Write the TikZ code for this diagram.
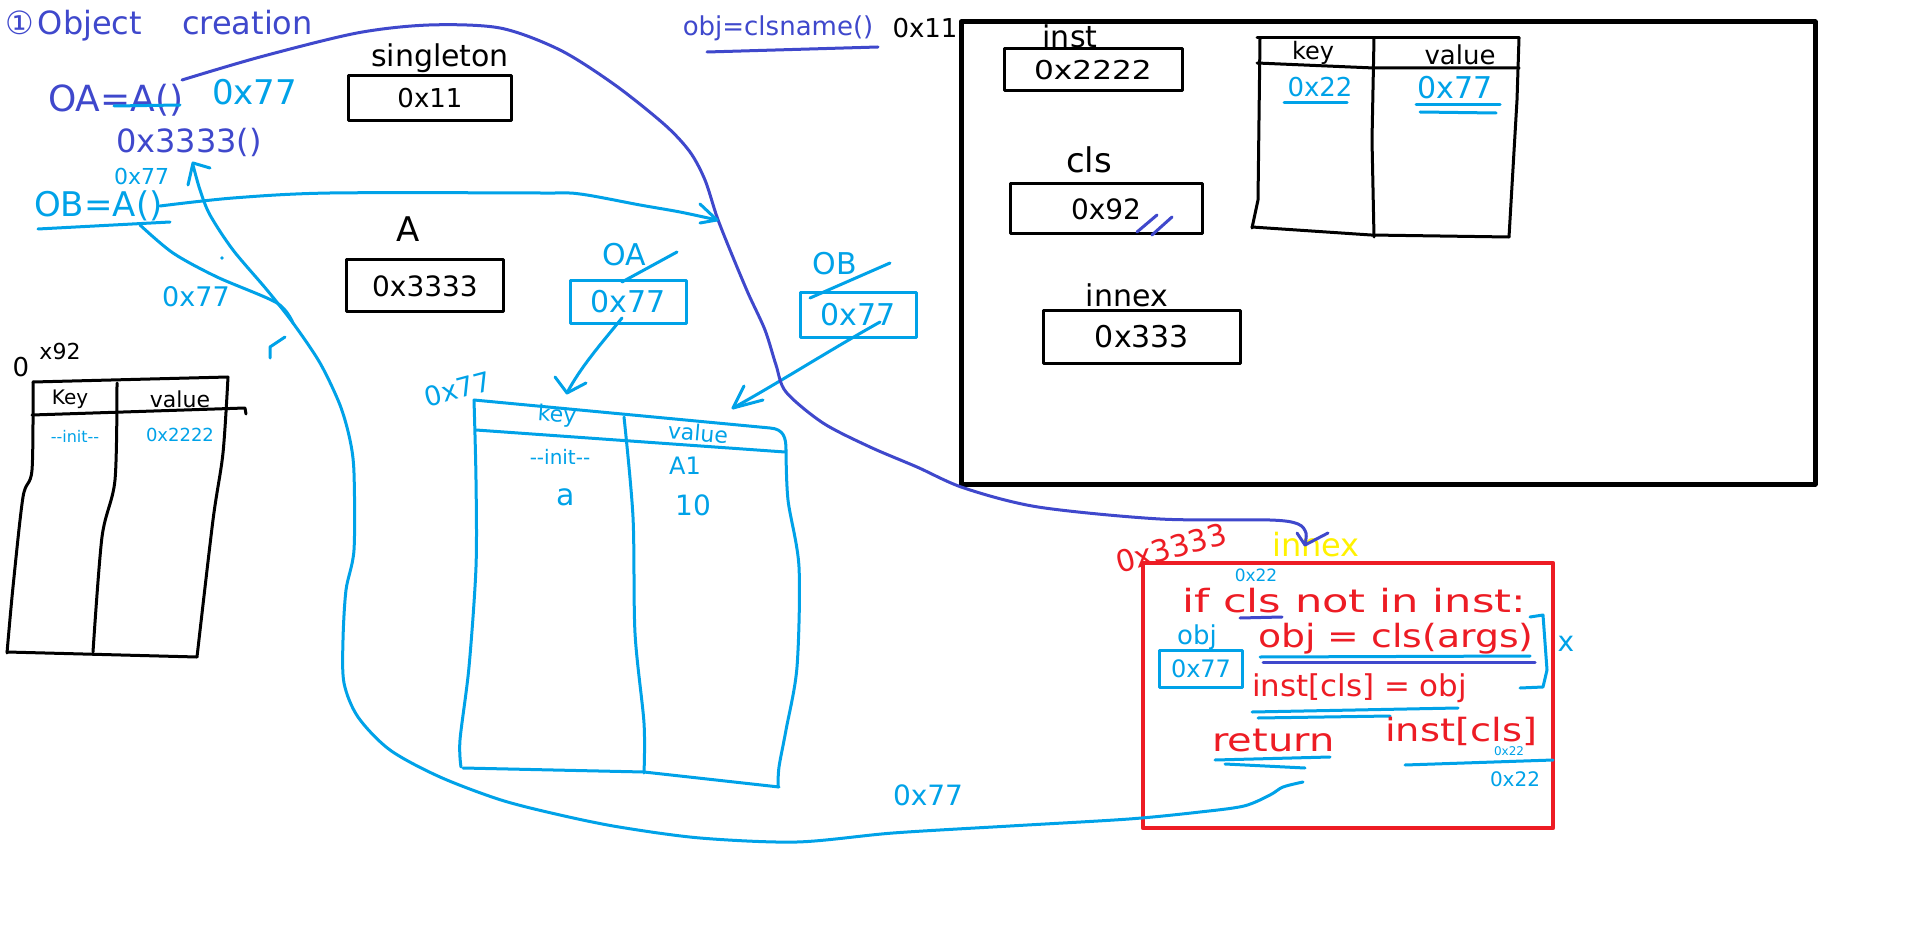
\documentclass[tikz,border=0pt]{standalone}
\usepackage{fontspec}
\setmainfont{DejaVu Sans}
\usepackage{graphicx}
\definecolor{lb}{HTML}{00A2E8}
\definecolor{db}{HTML}{3F48CC}
\definecolor{rd}{HTML}{ED1C24}
\definecolor{yl}{HTML}{FFF200}
\newcommand\fs[1]{\fontsize{#1}{#1}\selectfont}
\newcommand\sx[2]{\scalebox{#1}[1]{#2}}
\begin{document}
\begin{tikzpicture}[x=1pt,y=-1pt,line cap=round,line join=round,
  pen/.style={line width=3pt},
  t/.style={inner sep=0pt,font=\fs{#1}},
  bbox/.style={draw=black,line width=3pt,inner sep=0pt},
  lbox/.style={draw=lb,line width=3pt,inner sep=0pt,text=lb},
]
\useasboundingbox (0,0) rectangle (1914,933);
\fill[white] (0,0) rectangle (1914,933);

% ---------- top-left notes ----------
\node[t=32,text=db,anchor=west] (title) at (5,26) {①\hspace{4pt}Object\hspace{40pt}creation};
\node[t=36,text=db,anchor=west] (oaeq) at (48,100) {OA=A()};
\draw[lb,pen] (114,106) -- (180,105);
\node[t=34,text=lb,anchor=west] (oaaddr) at (212,92) {0x77};
\node[t=32,text=db,anchor=west] (a3333) at (116,142) {0x3333()};
\node[t=22,text=lb,anchor=west] (smaddr) at (114,176) {0x77};
\node[t=34,text=lb,anchor=west] (obeq) at (34,206) {OB=A()};
\draw[lb,pen] (38,229) -- (170,222);
\node[t=27,text=lb] (addr3) at (196,297) {0x77};
\fill[lb] (222,258) circle (1.8);
\draw[lb,pen] (270,358) -- (270,347) -- (285,337);

% ---------- obj = clsname() ----------
\node[t=26,text=db] (clsname) at (778,28) {obj=clsname()};
\draw[db,pen] (707,52) -- (878,47);
\node[t=26] (addr11) at (925,28) {0x11};

% ---------- singleton / A ----------
\node[t=30] (singlbl) at (440,58) {singleton};
\node[bbox,minimum width=163,minimum height=45,font=\fs{26}] (singbox) at (430,98) {0x11};
\node[t=34] (albl) at (408,229) {A};
\node[bbox,minimum width=157,minimum height=52,font=\fs{28}] (abox) at (425,286) {0x3333};

% ---------- OA / OB boxes ----------
\node[t=30,text=lb] (oalbl) at (624,255) {OA};
\node[lbox,minimum width=116,minimum height=42,font=\fs{30}] (oabox) at (628,302) {0x77};
\draw[lb,pen] (622,282) -- (677,252);
\node[t=30,text=lb] (oblbl) at (835,264) {OB};
\node[lbox,minimum width=116,minimum height=45,font=\fs{30}] (obbox) at (858,315) {0x77};
\draw[lb,pen] (810,298) -- (890,263);

% ---------- main (blue) table ----------
\coordinate (mtl) at (474,400);
\coordinate (mtr) at (786,450);
\draw[lb,pen] (mtl) -- (770,428) .. controls (784,429) and (786,438) .. (mtr);
\draw[lb,pen] (476,430) -- (785,452);
\draw[lb,pen] plot[smooth] coordinates {(474,400) (476,480) (476,567) (469,667) (460,740) (461,767)};
\draw[lb,pen] (463,768) -- (644,772) -- (779,787);
\draw[lb,pen] plot[smooth] coordinates {(786,450) (788,500) (799,567) (797,667) (786,730) (779,767) (778,787)};
\draw[lb,pen] plot[smooth] coordinates {(624,417) (633,517) (635,633) (644,723) (644,773)};
\node[t=27,text=lb,rotate=15] (mt77) at (458,389) {0x77};
\node[t=22,text=lb,rotate=-4] (mtkey) at (557,416) {key};
\node[t=22,text=lb,rotate=-5] (mtval) at (698,433) {value};
\node[t=20,text=lb] (mtinit) at (560,457) {-{}-init-{}-};
\node[t=24,text=lb] (mtA) at (685,466) {A1};
\node[t=30,text=lb] (mta) at (566,497) {a};
\node[t=28,text=lb] (mt10) at (693,505) {10};

% arrows from OA/OB to table
\coordinate (oast) at (622,318);
\coordinate (oatip) at (567,393);
\draw[lb,pen] (oast) .. controls (600,345) and (580,368) .. (oatip);
\draw[lb,pen] (555,377) -- (oatip) -- (586,383);
\coordinate (obst) at (880,322);
\coordinate (obtip) at (733,408);
\draw[lb,pen] (obst) .. controls (830,350) and (780,382) .. (obtip);
\draw[lb,pen] (744,386) -- (obtip) -- (763,400);

% ---------- left (black) table ----------
\node[t=26] (lt0) at (21,367) {0};
\node[t=22] (ltx) at (60,351) {x92};
\draw[pen] (33,382) -- (228,377);
\draw[pen] (32,415) -- (245,408) -- (246,414);
\draw[pen] plot[smooth] coordinates {(33,382) (32,470) (23,497) (13,587) (7,653)};
\draw[pen] plot[smooth] coordinates {(228,377) (223,453) (213,520) (197,657)};
\draw[pen] (7,652) -- (197,657);
\draw[pen] plot[smooth] coordinates {(117,383) (115,480) (102,537) (93,652)};
\node[t=20] (ltkey) at (70,399) {Key};
\node[t=22] (ltval) at (180,399) {value};
\node[t=16,text=lb] (ltinit) at (75,436) {-{}-init-{}-};
\node[t=18,text=lb] (lt22) at (180,435) {0x2222};

% ---------- big black box ----------
\node[draw=black,line width=5pt,minimum width=854,minimum height=462] (frame) at (1388,253) {};
\node[t=30] (instlbl) at (1070,36) {inst};
\node[bbox,minimum width=178,minimum height=42,font=\fs{26}] (instbox) at (1093,70) {\sx{1.2}{0x2222}};
\node[t=34] (clslbl) at (1089,160) {cls};
\node[bbox,minimum width=192,minimum height=50,font=\fs{28}] (clsbox) at (1106,209) {0x92};
\draw[db,pen] (1137,232) -- (1157,215);
\draw[db,pen] (1152,235) -- (1172,217);
\node[t=30] (innexlbl) at (1127,295) {innex};
\node[bbox,minimum width=197,minimum height=52,font=\fs{30}] (innexbox) at (1142,337) {0x333};
% inner table
\draw[pen] (1257,38) -- (1519,38);
\draw[pen] (1257,63) -- (1374,68) -- (1519,68);
\draw[pen] (1260,38) -- (1258,200) -- (1252,228);
\draw[pen] (1252,227) -- (1371,235) -- (1509,237);
\draw[pen] (1519,38) -- (1517,100) -- (1509,237);
\draw[pen] (1374,38) -- (1372,140) -- (1374,237);
\node[t=24] (itkey) at (1313,53) {key};
\node[t=26] (itval) at (1460,55) {value};
\node[t=26,text=lb] (it22) at (1320,87) {0x22};
\draw[lb,pen] (1284,103) -- (1347,103);
\node[t=30,text=lb] (it77) at (1455,88) {0x77};
\draw[lb,pen] (1416,105) -- (1500,105);
\draw[lb,pen] (1420,112) -- (1496,113);

% ---------- red box ----------
\node[t=30,text=rd,rotate=15] (r3333) at (1171,548) {0x3333};
\node[t=32,text=yl] (innexy) at (1316,545) {innex};
\node[draw=rd,line width=4.5pt,minimum width=410,minimum height=265] (redbox) at (1348,695.5) {};
\node[t=17,text=lb] (rb22a) at (1256,575) {0x22};
\node[t=32,text=rd,anchor=west] (ifl) at (1182,601) {\sx{1.35}{if cls not in inst:}};
\draw[db,pen] (1240,618) -- (1282,617);
\node[t=26,text=lb] (objlbl) at (1197,637) {obj};
\node[lbox,minimum width=83,minimum height=37,font=\fs{24}] (objbox) at (1201,669) {0x77};
\node[t=32,text=rd,anchor=west] (objl) at (1258,639) {\sx{1.18}{obj = cls(args)}};
\draw[lb,pen] (1260,657) -- (1530,656);
\draw[db,pen] (1263,662) -- (1535,662);
\draw[lb,pen] (1530,617) -- (1543,615) -- (1547,670) -- (1543,687) -- (1520,688);
\node[t=28,text=lb] (rbx) at (1566,644) {x};
\node[t=30,text=rd,anchor=west] (instl) at (1252,688) {\sx{1.03}{inst[cls] = obj}};
\draw[lb,pen] (1252,712) -- (1458,708);
\draw[lb,pen] (1258,718) -- (1390,716);
\node[t=32,text=rd,anchor=west] (retl) at (1212,740) {\sx{1.25}{return}};
\draw[lb,pen] (1215,760) -- (1330,757);
\draw[lb,pen] (1225,764) -- (1305,768);
\node[t=32,text=rd,anchor=west] (retv) at (1385,731) {\sx{1.2}{inst[cls]}};
\node[t=12,text=lb] (rb22b) at (1509,751) {0x22};
\draw[lb,pen] (1405,765) -- (1553,760);
\node[t=20,text=lb] (rb22c) at (1515,779) {0x22};
\node[t=28,text=lb] (low77) at (928,795) {0x77};

% ---------- long connectors ----------
\coordinate (dbst) at (182,80);
\coordinate (dbtip) at (1305,545);
\draw[db,pen] plot[smooth] coordinates {(182,80) (260,57) (357,33) (429,25) (500,28) (560,50) (615,85) (665,125) (690,152) (705,180) (717,217) (730,250) (748,293) (765,330) (776,365) (786,392) (823,423) (870,447) (917,467) (964,488) (1038,507) (1160,519) (1270,520) (1298,524) (1306,533) (1305,545)};
\draw[db,pen] (1297,533) -- (dbtip) -- (1328,533);
\coordinate (obln) at (160,206);
\coordinate (oblntip) at (717,220);
\draw[lb,pen] plot[smooth] coordinates {(160,206) (233,198) (330,193) (540,193) (580,194) (640,205) (680,212) (717,220)};
\draw[lb,pen] (700,204) -- (oblntip) -- (700,223);
\coordinate (rettip) at (193,163);
\draw[lb,pen] plot[smooth] coordinates {(193,165) (200,190) (210,215) (233,250) (267,290) (293,323) (320,363) (340,405) (350,440) (354,473) (354,550) (346,590) (343,640) (344,683) (358,717) (390,750) (440,777) (501,800) (560,815) (619,827) (700,838) (797,842) (893,833) (1010,826) (1129,819) (1200,812) (1244,806) (1270,795) (1283,787) (1303,782)};
\draw[lb,pen] (188,185) -- (rettip) -- (210,168);
\draw[lb,pen] plot[smooth] coordinates {(140,225) (173,253) (217,277) (277,303) (293,323)};
\end{tikzpicture}
\end{document}
